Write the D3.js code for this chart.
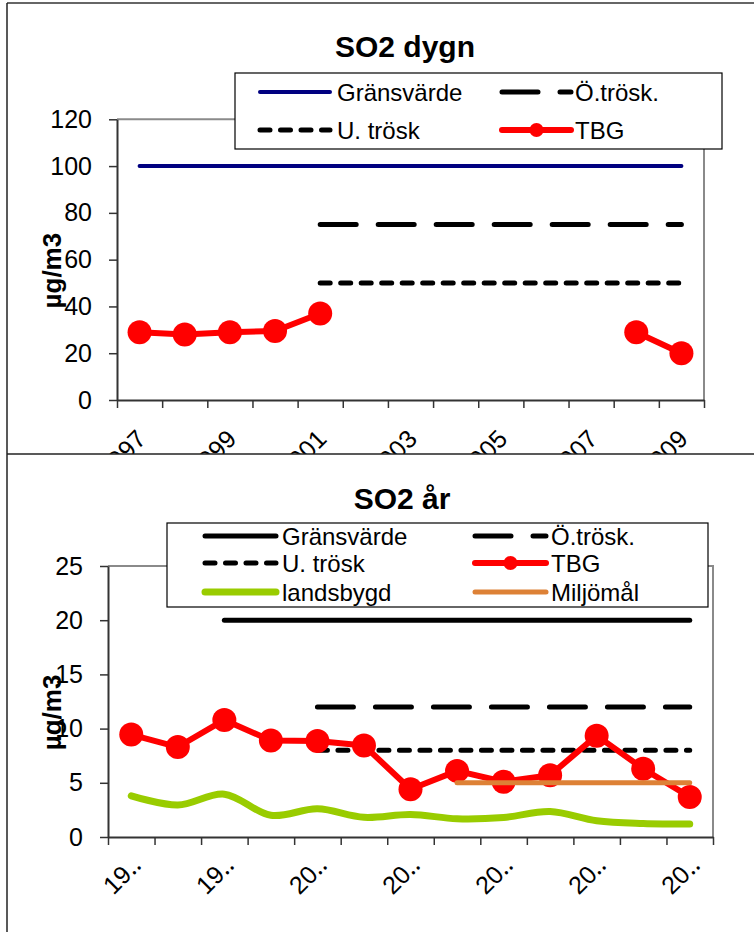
<!DOCTYPE html>
<html><head><meta charset="utf-8">
<script src="https://cdn.jsdelivr.net/npm/d3@7"></script>
<style>
body{margin:0;background:#fff}
svg text{font-family:"Liberation Sans",Arial,Helvetica,sans-serif}
</style>
</head><body>
<svg id="c" width="754" height="932"></svg>
<script>
// ---------- DATA ----------
const years = ["1997","1998","1999","2000","2001","2002","2003","2004","2005","2006","2007","2008","2009"];

// SO2 dygn (daily)
const dygnTicks = [0,20,40,60,80,100,120];
const dygnXLabels = ["1997","","1999","","2001","","2003","","2005","","2007","","2009"];
const dygnGrans  = [100,100,100,100,100,100,100,100,100,100,100,100,100];
const dygnOtrosk = [null,null,null,null,75,75,75,75,75,75,75,75,75];
const dygnUtrosk = [null,null,null,null,50,50,50,50,50,50,50,50,50];
const dygnTBG    = [29,28,29,29.5,37,null,null,null,null,null,null,29,20];

// SO2 år (annual)
const arTicks = [0,5,10,15,20,25];
const arXLabels = ["19‥","","19‥","","20‥","","20‥","","20‥","","20‥","","20‥"];
const arGrans  = [null,null,20,20,20,20,20,20,20,20,20,20,20];
const arOtrosk = [null,null,null,null,12,12,12,12,12,12,12,12,12];
const arUtrosk = [null,null,null,null,8,8,8,8,8,8,8,8,8];
const arTBG    = [9.45,8.3,10.8,8.9,8.85,8.45,4.4,6.1,5.1,5.7,9.35,6.3,3.7];
const arLands  = [3.8,2.95,3.95,2.0,2.6,1.82,2.08,1.68,1.8,2.35,1.5,1.25,1.2];
const arMiljo  = [null,null,null,null,null,null,null,5,5,5,5,5,5];

// ---------- DRAW ----------
const svg = d3.select("#c");
svg.append("rect").attr("width",754).attr("height",932).attr("fill","#fff");

const defs = svg.append("defs");
defs.append("clipPath").attr("id","clipTop").append("rect")
  .attr("x",0).attr("y",3).attr("width",754).attr("height",451);

const STY = {
  grans:  {color:"#000080", width:4},
  gransB: {color:"#000000", width:5},
  otrosk: {color:"#000000", width:5, dash:"36,22"},
  utrosk: {color:"#000000", width:5, dash:"10,10.5"},
  tbg:    {color:"#FF0000", width:6, marker:12, lmarker:7},
  lands:  {color:"#99CC00", width:7, smooth:true},
  miljo:  {color:"#DD8136", width:5}
};

function chart(o){
  const g = svg.append("g");
  if (o.clip) g.attr("clip-path","url(#"+o.clip+")");
  const x = d3.scaleBand().domain(years).range([o.x0,o.x1]);
  const cx = c => x(c) + x.bandwidth()/2;
  const y = d3.scaleLinear().domain([0,o.max]).range([o.yb,o.yt]);

  // gray plot border (top & right)
  g.append("path").attr("d",`M${o.x0},${y(o.max)}H${o.x1}V${o.yb}`)
    .attr("fill","none").attr("stroke","#8a8a8a").attr("stroke-width",2);

  // y axis
  const ya = g.append("g").attr("transform",`translate(${o.x0},0)`)
    .call(d3.axisLeft(y).tickValues(o.ticks).tickSize(8).tickPadding(17).tickSizeOuter(0));
  ya.select(".domain").attr("stroke","#333").attr("stroke-width",2);
  ya.selectAll(".tick line").attr("stroke","#333").attr("stroke-width",1.5);
  ya.selectAll(".tick text").attr("font-size",25).attr("fill","#000")
    .attr("font-family",'"Liberation Sans",Arial,sans-serif');

  // x axis: tick marks at category boundaries
  const xi = d3.scaleLinear().domain([0,years.length]).range([o.x0,o.x1]);
  const xa = g.append("g").attr("transform",`translate(0,${o.yb})`)
    .call(d3.axisBottom(xi).tickValues(d3.range(years.length+1)).tickSize(8).tickFormat("").tickSizeOuter(0));
  xa.select(".domain").attr("stroke","#333").attr("stroke-width",2);
  xa.selectAll(".tick line").attr("stroke","#333").attr("stroke-width",1.5);

  // rotated x labels
  g.append("g").selectAll("text").data(years.map((c,i)=>({c,l:o.xlabels[i]})).filter(d=>d.l))
    .join("text")
    .attr("transform",d=>`translate(${cx(d.c)+o.lx},${o.yb+o.ly}) rotate(-45)`)
    .attr("text-anchor","end").attr("font-size",25).attr("fill","#000")
    .text(d=>d.l);

  // series
  o.series.forEach(s=>{
    const st = s.style;
    const pts = years.map((c,i)=>({c,v:s.values[i]}));
    const line = d3.line().defined(d=>d.v!=null).x(d=>cx(d.c)).y(d=>y(d.v))
      .curve(st.smooth ? d3.curveCatmullRom.alpha(0.5) : d3.curveLinear);
    g.append("path").datum(pts).attr("d",line).attr("fill","none")
      .attr("stroke",st.color).attr("stroke-width",st.width)
      .attr("stroke-linecap","round").attr("stroke-linejoin","round")
      .attr("stroke-dasharray",st.dash||null);
    if (st.marker){
      g.append("g").selectAll("circle").data(pts.filter(d=>d.v!=null)).join("circle")
        .attr("cx",d=>cx(d.c)).attr("cy",d=>y(d.v)).attr("r",st.marker).attr("fill",st.color);
    }
  });

  // title
  svg.append("text").attr("x",o.tx).attr("y",o.ty).attr("text-anchor","middle")
    .attr("font-size",30).attr("font-weight","bold").attr("fill","#000").text(o.title);

  // y axis title
  svg.append("text").attr("transform",`translate(61,${(o.yb+o.yt)/2+11}) rotate(-90)`)
    .attr("text-anchor","middle").attr("font-size",26).attr("font-weight","bold")
    .attr("fill","#000").text("µg/m3");

  // legend
  const L = o.legend;
  const lg = svg.append("g");
  lg.append("rect").attr("x",L.x).attr("y",L.y).attr("width",L.w).attr("height",L.h)
    .attr("fill","#fff").attr("stroke","#000").attr("stroke-width",1.2);
  L.items.forEach(it=>{
    const st = it.style;
    const lx0 = L.cols[it.col][0], lx1 = L.cols[it.col][1], tx = L.cols[it.col][2];
    const ly = L.rows[it.row];
    lg.append("line").attr("x1",lx0).attr("x2",lx1).attr("y1",ly).attr("y2",ly)
      .attr("stroke",st.color).attr("stroke-width",st.width)
      .attr("stroke-linecap","round").attr("stroke-dasharray",st.dash||null);
    if (st.lmarker) lg.append("circle").attr("cx",(lx0+lx1)/2).attr("cy",ly).attr("r",st.lmarker).attr("fill",st.color);
    lg.append("text").attr("x",tx).attr("y",ly+9).attr("font-size",24).attr("fill","#000").text(it.label);
  });
}

// frame lines
svg.append("line").attr("x1",7).attr("x2",754).attr("y1",3).attr("y2",3).attr("stroke","#333").attr("stroke-width",1.5);
svg.append("line").attr("x1",7).attr("x2",7).attr("y1",3).attr("y2",932).attr("stroke","#222").attr("stroke-width",1.5);

chart({
  clip:"clipTop", x0:117, x1:704, yt:119.3, yb:400, max:120, ticks:dygnTicks,
  xlabels:dygnXLabels, lx:8, ly:40.5,
  title:"SO2 dygn", tx:405, ty:57,
  series:[
    {values:dygnGrans, style:STY.grans},
    {values:dygnOtrosk, style:STY.otrosk},
    {values:dygnUtrosk, style:STY.utrosk},
    {values:dygnTBG, style:STY.tbg}
  ],
  legend:{x:235,y:73,w:487,h:76, rows:[92,130], cols:[[260,330,337],[502,571,575]],
    items:[
      {label:"Gränsvärde", style:STY.grans, col:0,row:0},
      {label:"Ö.trösk.", style:STY.otrosk, col:1,row:0},
      {label:"U. trösk", style:STY.utrosk, col:0,row:1},
      {label:"TBG", style:STY.tbg, col:1,row:1}
    ]}
});

svg.append("line").attr("x1",7).attr("x2",754).attr("y1",454).attr("y2",454).attr("stroke","#222").attr("stroke-width",1.5);

chart({
  clip:null, x0:108, x1:713, yt:566, yb:837, max:25, ticks:arTicks,
  xlabels:arXLabels, lx:11, ly:30,
  title:"SO2 år", tx:402, ty:509,
  series:[
    {values:arLands, style:STY.lands},
    {values:arGrans, style:STY.gransB},
    {values:arOtrosk, style:STY.otrosk},
    {values:arUtrosk, style:STY.utrosk},
    {values:arTBG, style:STY.tbg},
    {values:arMiljo, style:STY.miljo}
  ],
  legend:{x:167,y:523,w:541,h:84, rows:[536,563,592], cols:[[205,276,282],[475,546,551]],
    items:[
      {label:"Gränsvärde", style:STY.gransB, col:0,row:0},
      {label:"Ö.trösk.", style:STY.otrosk, col:1,row:0},
      {label:"U. trösk", style:STY.utrosk, col:0,row:1},
      {label:"TBG", style:STY.tbg, col:1,row:1},
      {label:"landsbygd", style:STY.lands, col:0,row:2},
      {label:"Miljömål", style:STY.miljo, col:1,row:2}
    ]}
});
</script>
</body></html>
